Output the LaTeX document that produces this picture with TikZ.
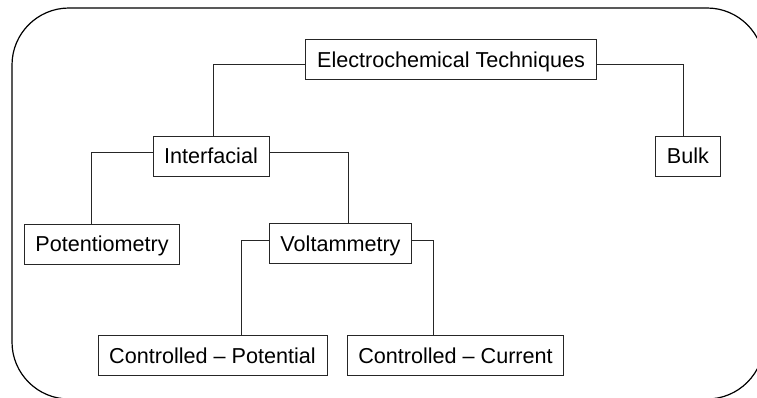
\documentclass[tikz,border=0pt]{standalone}
\usepackage{fontspec}
\setmainfont{Liberation Sans}
\usepackage{xcolor}
\usepackage{tikz}
\definecolor{ink}{HTML}{262626}

\tikzset{
  box/.style={draw=ink,line width=0.7pt,inner xsep=8.4pt,minimum height=30pt,
    text height=11.6pt,text depth=0pt,font=\fontsize{16.2}{19}\selectfont},
  link/.style={draw=ink,line width=0.7pt}
}

\begin{document}
\begin{tikzpicture}[x=0.75pt,y=-0.75pt]
  \clip (0,0) rectangle (757,397);
  \draw[line width=0.9pt,rounded corners=42.75pt] (12,8) rectangle (764,399);
  \node[box] (elec) at (451,59.5) {Electrochemical Techniques};
  \node[box] (inter) at (211,156) {Interfacial};
  \node[box] (bulk) at (688,156) {Bulk};
  \node[box] (pot) at (102,244) {Potentiometry};
  \node[box] (volt) at (340.5,243.5) {Voltammetry};
  \node[box] (cpot) at (212.5,355.5) {Controlled -- Potential};
  \node[box] (ccur) at (455.5,355.5) {Controlled -- Current};
  \draw[link] ([yshift=-3.4pt]elec.west) -| ([xshift=1.5pt]inter.north);
  \draw[link] ([yshift=-3.4pt]elec.east) -| ([xshift=-3.75pt]bulk.north);
  \draw[link] ([yshift=3pt]inter.west) -| ([xshift=-8.25pt]pot.north);
  \draw[link] ([yshift=3pt]inter.east) -| ([xshift=5.6pt]volt.north);
  \draw[link] ([yshift=2.6pt]volt.west) -| ([xshift=21.4pt]cpot.north);
  \draw[link] ([yshift=2.6pt]volt.east) -| ([xshift=-16.9pt]ccur.north);
\end{tikzpicture}
\end{document}
